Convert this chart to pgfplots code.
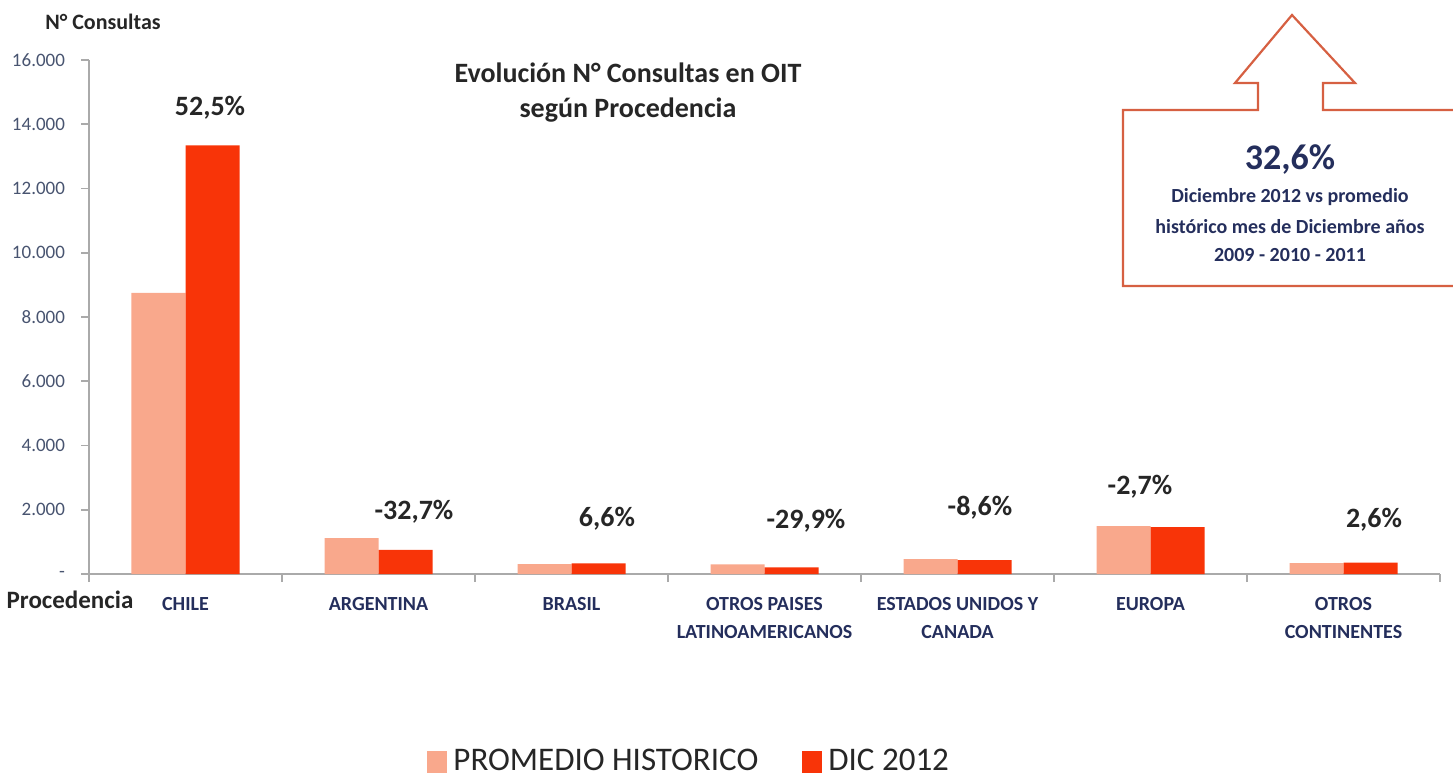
\documentclass[border=0pt]{standalone}
\usepackage{pgfplots}
\pgfplotsset{compat=1.18}
\usepackage{fontspec}
\setmainfont{Carlito}

\definecolor{promedio}{RGB}{249,168,140}
\definecolor{dic}{RGB}{248,52,8}
\definecolor{navy}{RGB}{36,46,92}
\definecolor{tickgray}{RGB}{72,84,112}
\definecolor{axisgray}{RGB}{170,170,170}
\definecolor{callout}{RGB}{214,96,66}
\definecolor{txt}{RGB}{38,38,38}

\begin{document}
\begin{tikzpicture}
\path[use as bounding box] (0,0) rectangle (726.5pt,-388.5pt);
\begin{axis}[
    at={(44.5pt,-287pt)}, anchor=south west,
    scale only axis, width=675.5pt, height=257pt,
    xmin=-0.5, xmax=6.5, ymin=0, ymax=16000,
    scaled y ticks=false,
    axis lines*=left,
    axis line style={axisgray, line width=0.8pt, -},
    ybar=0pt, bar width=27pt,
    xtick={0,...,6},
    xticklabels={CHILE, ARGENTINA, BRASIL, {OTROS PAISES\\LATINOAMERICANOS},
                 {ESTADOS UNIDOS Y\\CANADA}, EUROPA, {OTROS\\CONTINENTES}},
    major x tick style={draw=none},
    minor xtick={-0.5,0.5,...,6.5},
    minor x tick style={axisgray, line width=0.8pt},
    tick align=outside,
    major tick length=4pt, minor tick length=4pt,
    ytick={0,2000,...,16000},
    yticklabels={{-\hspace{1.2em}},2.000,4.000,6.000,8.000,10.000,12.000,14.000,16.000},
    y tick style={axisgray, line width=0.8pt},
    xticklabel style={font=\bfseries\fontsize{10}{14}\selectfont, text=navy, align=center, anchor=north, yshift=-4pt},
    yticklabel style={font=\fontsize{9.5}{11}\selectfont, text=tickgray, xshift=-4.5pt},
    legend style={at={(0.445,-0.365)}, anchor=center, legend columns=-1, draw=none,
                  font=\fontsize{16.5}{18}\selectfont, text=txt, inner sep=1pt,
                  /tikz/every even column/.append style={column sep=20pt}},
    legend image code/.code={\fill[#1] (0pt,-5.5pt) rectangle (10pt,5.5pt);},
    clip=false,
]
\addplot[fill=promedio, draw=none] coordinates {(0,8750) (1,1120) (2,310) (3,300) (4,467) (5,1494) (6,342)};
\addplot[fill=dic, draw=none] coordinates {(0,13340) (1,754) (2,330) (3,210) (4,430) (5,1460) (6,351)};
\addlegendentry{\hspace{1pt}PROMEDIO HISTORICO}
\addlegendentry{\hspace{1pt}DIC 2012}
\end{axis}

\begin{scope}[x=0.5pt, y=-0.5pt]
  % titulo y ejes
  \node[font=\bfseries\fontsize{14}{16}\selectfont, text=txt] at (628,73) {Evolución N° Consultas en OIT};
  \node[font=\bfseries\fontsize{14}{16}\selectfont, text=txt] at (628,110) {según Procedencia};
  \node[font=\bfseries\fontsize{11}{13}\selectfont, text=txt] at (103,22) {N° Consultas};
  \node[font=\bfseries\fontsize{12.5}{14}\selectfont, text=txt] at (70,600) {Procedencia};
  % variaciones
  \begin{scope}[every node/.style={font=\bfseries\fontsize{14}{16}\selectfont, text=txt}]
    \node at (210,108) {52,5\%};
    \node at (414,512) {-32,7\%};
    \node at (607,519) {6,6\%};
    \node at (806,521) {-29,9\%};
    \node at (980,508) {-8,6\%};
    \node at (1140,487) {-2,7\%};
    \node at (1374,520) {2,6\%};
  \end{scope}
  % recuadro con flecha
  \draw[callout, line width=1.1pt, line join=miter]
    (1460,110) -- (1323,110) -- (1323,83) -- (1355,83) -- (1292,15) -- (1235,83)
    -- (1258,83) -- (1258,110) -- (1123,110) -- (1123,286) -- (1460,286);
  \node[font=\bfseries\fontsize{18}{20}\selectfont, text=navy] at (1290,160) {32,6\%};
  \begin{scope}[every node/.style={font=\bfseries\fontsize{10}{12}\selectfont, text=navy}]
    \node at (1290,197) {Diciembre 2012 vs promedio};
    \node at (1290,227) {histórico mes de Diciembre años};
    \node at (1290,255) {2009 - 2010 - 2011};
  \end{scope}
\end{scope}
\end{tikzpicture}
\end{document}
